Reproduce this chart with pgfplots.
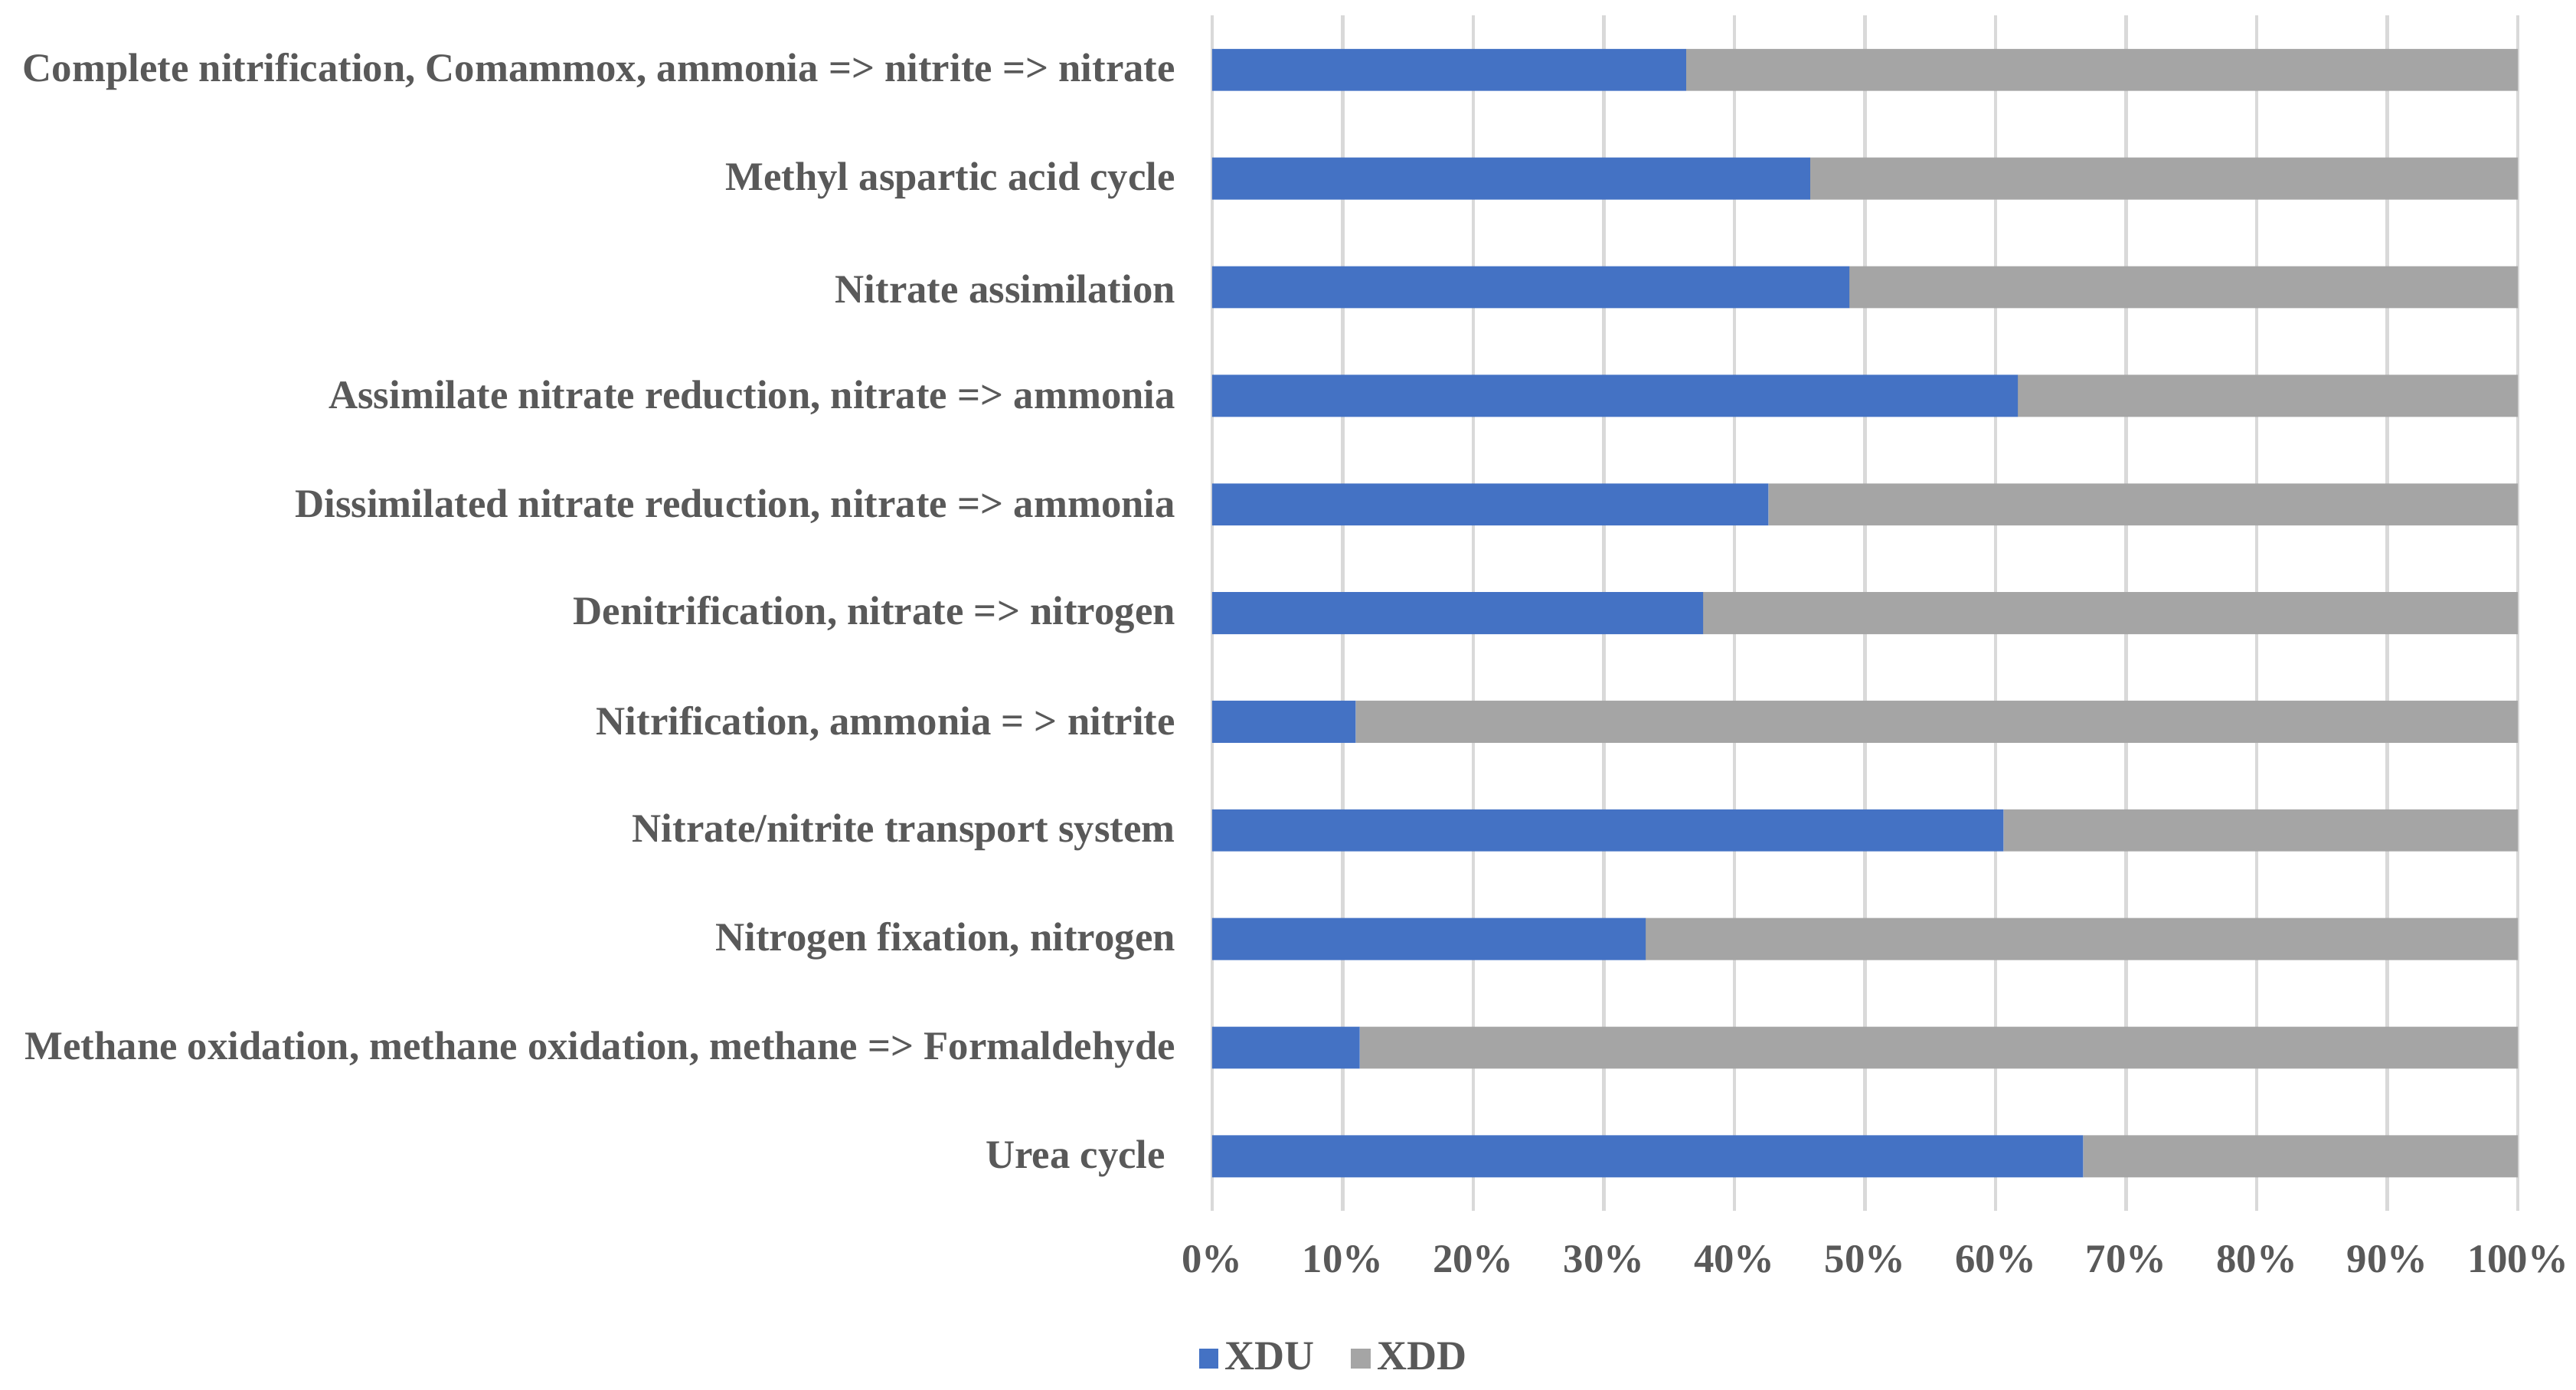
\documentclass[border=0pt]{standalone}
\usepackage{pgfplots}
\pgfplotsset{compat=1.18}
\usepackage{fontspec}
\setmainfont{Liberation Serif}
\definecolor{xdu}{HTML}{4472C4}
\definecolor{xdd}{HTML}{A5A5A5}
\definecolor{txt}{HTML}{595959}
\definecolor{grd}{HTML}{D9D9D9}
\begin{document}
\begin{tikzpicture}
\useasboundingbox (0,0) rectangle (784.2pt,423.1pt);
\begin{axis}[
  at={(369pt,54.6pt)}, anchor=south west,
  scale only axis, width=397.5pt, height=363.75pt,
  xbar stacked, bar width=12.8pt,
  xmin=0, xmax=100, ymin=-0.5, ymax=10.5,
  xtick={0,10,...,100},
  xticklabels={0\%,10\%,20\%,30\%,40\%,50\%,60\%,70\%,80\%,90\%,100\%},
  ytick={0,...,10},
  yticklabels={{Urea cycle\hspace*{3pt}},
    {Methane oxidation, methane oxidation, methane => Formaldehyde},
    {Nitrogen fixation, nitrogen},
    Nitrate/nitrite transport system,
    {Nitrification, ammonia = > nitrite},
    {Denitrification, nitrate => nitrogen},
    {Dissimilated nitrate reduction, nitrate => ammonia},
    {Assimilate nitrate reduction, nitrate => ammonia},
    Nitrate assimilation,
    Methyl aspartic acid cycle,
    {Complete nitrification, Comammox, ammonia => nitrite => nitrate}},
  major tick length=0pt,
  axis line style={draw=none},
  xmajorgrids, grid style={grd, line width=1pt},
  ymajorgrids=false,
  tick label style={font=\fontsize{12.3}{14}\selectfont\bfseries, text=txt, inner sep=0pt},
  yticklabel style={xshift=-11pt, yshift=-0.6pt},
  xticklabel style={yshift=-10.5pt},
  legend style={at={(0.095,-0.124)}, anchor=center, draw=none, fill=none,
    font=\fontsize{12.6}{14}\selectfont\bfseries, text=txt,
    inner sep=0pt, legend columns=2,
    /tikz/every even column/.append style={column sep=9pt}},
  legend image code/.code={\fill[#1] (0pt,-3pt) rectangle (6pt,3pt);},
  legend cell align=left,
]
\addplot[fill=xdu, draw=none] coordinates {
  (66.7,0) (11.3,1) (33.2,2) (60.6,3) (11.0,4) (37.6,5)
  (42.6,6) (61.7,7) (48.8,8) (45.8,9) (36.3,10)};
\addlegendentry{XDU}
\addplot[fill=xdd, draw=none] coordinates {
  (33.3,0) (88.7,1) (66.8,2) (39.4,3) (89.0,4) (62.4,5)
  (57.4,6) (38.3,7) (51.2,8) (54.2,9) (63.7,10)};
\addlegendentry{XDD}
\end{axis}
\end{tikzpicture}
\end{document}
